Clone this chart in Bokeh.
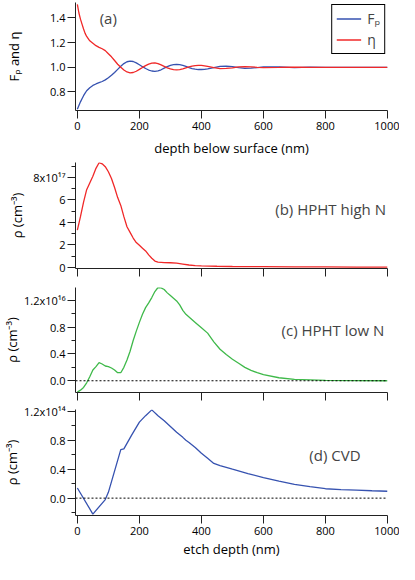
from bokeh.plotting import figure
from bokeh.layouts import column
from bokeh.models import Range1d, FixedTicker, Span, Label
from bokeh.embed import file_html
from bokeh.resources import INLINE

# ---------------- data ----------------
x_ticks = [0, 200, 400, 600, 800, 1000]

# (a) F_p and eta vs depth below surface (nm)
a_x = [0, 5, 10, 15, 20, 25, 30, 40, 50, 60,
       70, 80, 90, 100, 110, 120, 130, 140, 150, 160,
       170, 180, 190, 200, 210, 220, 230, 240, 250, 260,
       270, 280, 290, 300, 310, 320, 330, 340, 350, 360,
       370, 380, 390, 400, 410, 420, 440, 460, 480, 500,
       520, 540, 560, 580, 600, 650, 700, 750, 800, 850,
       900, 1000]
a_fp = [0.66, 0.69, 0.72, 0.745, 0.77, 0.79, 0.81, 0.835, 0.853, 0.865,
        0.875, 0.885, 0.898, 0.915, 0.935, 0.958, 0.983, 1.008, 1.03, 1.045,
        1.05, 1.047, 1.036, 1.021, 1.005, 0.99, 0.978, 0.97, 0.967, 0.971,
        0.98, 0.993, 1.005, 1.015, 1.021, 1.024, 1.022, 1.016, 1.007, 0.998,
        0.99, 0.985, 0.982, 0.982, 0.984, 0.988, 0.998, 1.007, 1.01, 1.006,
        0.998, 0.992, 0.993, 0.998, 1.003, 1.003, 0.998, 1.001, 1.0, 1.0,
        1.0, 1.0]
a_eta = [1.51, 1.44, 1.39, 1.35, 1.31, 1.275, 1.25, 1.215, 1.195, 1.175,
         1.162, 1.15, 1.135, 1.11, 1.085, 1.055, 1.025, 1.0, 0.978, 0.962,
         0.955, 0.958, 0.968, 0.983, 0.999, 1.014, 1.026, 1.033, 1.035, 1.03,
         1.02, 1.008, 0.996, 0.987, 0.981, 0.979, 0.981, 0.987, 0.995, 1.003,
         1.009, 1.013, 1.015, 1.015, 1.012, 1.007, 0.997, 0.99, 0.991, 0.996,
         1.003, 1.006, 1.004, 1.0, 0.997, 0.999, 1.002, 1.0, 1.0, 1.0,
         1.0, 1.0]
a_yticks = [0.8, 1.0, 1.2, 1.4]
a_yminor = []
a_ylabels = {0.8: "0.8", 1.0: "1.0", 1.2: "1.2", 1.4: "1.4"}

# (b) HPHT high N, rho in units of 1e17 cm^-3 vs etch depth (nm)
b_x = [0, 10, 20, 30, 40, 50, 60, 70, 80, 90,
       100, 110, 120, 130, 140, 150, 160, 170, 180, 190,
       200, 210, 220, 230, 240, 250, 260, 280, 300, 320,
       340, 360, 380, 400, 450, 500, 600, 700, 800, 900,
       1000]
b_rho = [3.3, 4.5, 5.8, 6.9, 7.5, 8.1, 8.8, 9.3, 9.2, 8.95,
         8.5, 7.9, 7.1, 6.2, 5.5, 4.5, 3.6, 3.1, 2.6, 2.2,
         1.95, 1.7, 1.45, 1.1, 0.8, 0.55, 0.46, 0.42, 0.40, 0.36,
         0.28, 0.2, 0.15, 0.13, 0.09, 0.07, 0.05, 0.04, 0.03, 0.02,
         0.02]
b_yticks = [0, 2, 4, 6, 8]
b_yminor = [1, 3, 5, 7, 9]
b_ylabels = {0: "0", 2: "2", 4: "4", 6: "6", 8: "8x10¹⁷"}

# (c) HPHT low N, rho in units of 1e16 cm^-3
c_x = [0, 10, 20, 30, 40, 50, 60, 70, 80, 90,
       100, 110, 120, 130, 140, 150, 160, 170, 180, 190,
       200, 210, 220, 230, 240, 250, 260, 270, 280, 290,
       300, 310, 320, 330, 340, 350, 360, 380, 400, 420,
       440, 460, 480, 500, 520, 540, 560, 580, 600, 650,
       700, 800, 900, 1000]
c_rho = [-0.17, -0.14, -0.1, -0.03, 0.06, 0.16, 0.21, 0.27, 0.25, 0.22,
         0.21, 0.19, 0.16, 0.12, 0.12, 0.2, 0.31, 0.44, 0.6, 0.74,
         0.87, 0.99, 1.09, 1.16, 1.24, 1.33, 1.39, 1.385, 1.36, 1.31,
         1.27, 1.23, 1.19, 1.13, 1.05, 0.99, 0.95, 0.87, 0.79, 0.71,
         0.58, 0.47, 0.39, 0.32, 0.26, 0.2, 0.155, 0.12, 0.09, 0.045,
         0.02, 0.006, 0.002, 0.0]
c_yticks = [0.0, 0.4, 0.8, 1.2]
c_yminor = [0.2, 0.6, 1.0]
c_ylabels = {0.0: "0.0", 0.4: "0.4", 0.8: "0.8", 1.2: "1.2x10¹⁶"}

# (d) CVD, rho in units of 1e14 cm^-3
d_x = [0, 50, 90, 100, 140, 150, 175, 200, 220, 240,
       260, 280, 300, 320, 340, 350, 360, 380, 400, 420,
       440, 460, 500, 550, 600, 650, 700, 750, 800, 850,
       900, 950, 1000]
d_rho = [0.14, -0.22, -0.02, 0.08, 0.67, 0.68, 0.87, 1.05, 1.14, 1.22,
         1.14, 1.07, 0.99, 0.91, 0.84, 0.80, 0.77, 0.70, 0.62, 0.55,
         0.48, 0.45, 0.40, 0.34, 0.285, 0.235, 0.19, 0.158, 0.13, 0.118,
         0.11, 0.102, 0.095]
d_yticks = [0.0, 0.4, 0.8, 1.2]
d_yminor = [-0.2, 0.2, 0.6, 1.0]
d_ylabels = {0.0: "0.0", 0.4: "0.4", 0.8: "0.8", 1.2: "1.2x10¹⁴"}

BLUE = "#3652b0"
RED = "#f02828"
GREEN = "#3fb94a"
FONT = "Open Sans"

W = 399
LEFT = 72
RIGHT = 12


def make_fig(height, top, bottom, yr, yticks, yminor, ylabels, ylabel,
             ystandoff, xlabels, xtitle=None):
    p = figure(width=W, height=height, x_range=Range1d(-6, 1000),
               y_range=Range1d(*yr), output_backend="svg",
               toolbar_location=None, min_border_left=LEFT,
               min_border_right=RIGHT, min_border_top=top,
               min_border_bottom=bottom)
    p.outline_line_color = None
    p.xgrid.visible = False
    p.ygrid.visible = False
    p.background_fill_color = "white"
    p.border_fill_color = "white"

    xa = p.xaxis[0]
    xa.ticker = FixedTicker(ticks=x_ticks, minor_ticks=[])
    ya = p.yaxis[0]
    ya.ticker = FixedTicker(ticks=yticks, minor_ticks=yminor)
    ya.major_label_overrides = ylabels
    ya.axis_label = ylabel
    ya.axis_label_standoff = ystandoff
    for ax in (xa, ya):
        ax.axis_line_color = "#222222"
        ax.axis_line_width = 1
        ax.major_tick_line_color = "#222222"
        ax.minor_tick_line_color = "#222222"
        ax.major_tick_out = 8
        ax.major_tick_in = 0
        ax.minor_tick_out = 4
        ax.minor_tick_in = 0
        ax.major_label_text_font = FONT
        ax.major_label_text_font_size = "11px"
        ax.major_label_text_color = "black"
        ax.major_label_standoff = 3
        ax.axis_label_text_font = FONT
        ax.axis_label_text_font_size = "13px"
        ax.axis_label_text_font_style = "normal"
        ax.axis_label_text_color = "black"
    ya.major_label_standoff = 2
    if not xlabels:
        xa.major_label_overrides = {t: "" for t in x_ticks}
        xa.major_label_text_font_size = "1px"
        xa.major_label_standoff = 0
    if xtitle:
        xa.axis_label = xtitle
        xa.axis_label_standoff = 2
    return p


# (a)
pa = make_fig(160, 2, 50, (0.65, 1.525), a_yticks, a_yminor, a_ylabels,
              "Fₚ and η", 24, True, "depth below surface (nm)")
pa.xaxis[0].axis_label_standoff = 6
pa.line(a_x, a_fp, line_color=BLUE, line_width=1.3, legend_label="Fₚ")
pa.line(a_x, a_eta, line_color=RED, line_width=1.3, legend_label="η")
lg = pa.legend[0]
lg.location = "top_right"
lg.margin = 2
lg.padding = 4
lg.spacing = 2
lg.glyph_width = 25
lg.glyph_height = 17
lg.label_height = 17
lg.label_width = 10
lg.label_standoff = 6
lg.label_text_font = FONT
lg.label_text_font_size = "14px"
lg.border_line_color = "black"
lg.border_line_width = 1
lg.border_line_alpha = 1
lg.background_fill_alpha = 1
pa.add_layout(Label(x=72, y=1.40, text="(a)", text_font=FONT,
                    text_font_size="15px", text_baseline="middle"))

# (b)
pb = make_fig(120, 2, 12, (-0.11, 9.32), b_yticks, b_yminor, b_ylabels,
              "ρ (cm⁻³)", 4, False)
pb.line(b_x, b_rho, line_color=RED, line_width=1.3)
pb.add_layout(Label(x=995, y=5.2, text="(b) HPHT high N", text_font=FONT,
                    text_font_size="15px", text_baseline="middle",
                    text_align="right"))

# (c)
pc = make_fig(122, 7, 10, (-0.175, 1.39), c_yticks, c_yminor, c_ylabels,
              "ρ (cm⁻³)", 0, False)
pc.add_layout(Span(location=0, dimension="width", line_color="black",
                   line_dash="2 2", line_width=1))
pc.line(c_x, c_rho, line_color=GREEN, line_width=1.3)
pc.add_layout(Label(x=990, y=0.75, text="(c) HPHT low N", text_font=FONT,
                    text_font_size="15px", text_baseline="middle",
                    text_align="right"))

# (d)
pd_ = make_fig(159, 7, 46, (-0.24, 1.225), d_yticks, d_yminor, d_ylabels,
               "ρ (cm⁻³)", 0, True, "etch depth (nm)")
pd_.add_layout(Span(location=0, dimension="width", line_color="black",
                    line_dash="2 2", line_width=1))
pd_.line(d_x, d_rho, line_color=BLUE, line_width=1.3)
pd_.add_layout(Label(x=748, y=0.60, text="(d) CVD", text_font=FONT,
                     text_font_size="15px", text_baseline="middle",
                     text_align="left"))

layout = column(pa, pb, pc, pd_, spacing=0)
open("out.html", "w").write(file_html(layout, INLINE))
